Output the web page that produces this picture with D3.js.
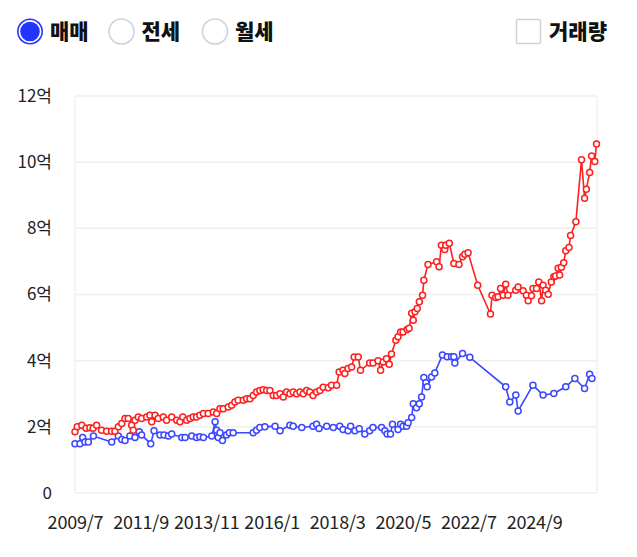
<!DOCTYPE html>
<html><head><meta charset="utf-8">
<script src="https://cdn.jsdelivr.net/npm/d3@7/dist/d3.min.js"></script>
<style>
body{margin:0;background:#fff;}
svg{display:block;font-family:"Noto Sans CJK KR","Noto Sans",sans-serif;}
</style>
</head><body>
<svg id="chart" width="637" height="557"></svg>
<script>
// ---- data ----
const legendLabels = ["매매", "전세", "월세"];
const volumeLabel = "거래량";
const yTickValues = [0, 2, 4, 6, 8, 10, 12];
const xTickLabels = ["2009/7", "2011/9", "2013/11", "2016/1", "2018/3", "2020/5", "2022/7", "2024/9"];
const xDomain = ["2009-07-01", "2026-10-01"];

const redDates = ["2009-07-01","2009-07-28","2009-09-21","2009-11-12","2009-12-28","2010-02-05","2010-03-19","2010-05-18","2010-07-18","2010-09-16","2010-10-26","2010-12-07","2011-01-16","2011-02-25","2011-04-04","2011-05-16","2011-06-04","2011-06-25","2011-08-04","2011-09-13","2011-11-13","2011-12-22","2012-01-13","2012-02-22","2012-04-01","2012-06-01","2012-07-10","2012-09-10","2012-11-10","2012-12-19","2013-01-22","2013-03-10","2013-04-19","2013-05-28","2013-07-07","2013-08-16","2013-09-28","2013-11-25","2014-01-25","2014-03-07","2014-04-16","2014-05-25","2014-07-25","2014-09-04","2014-10-13","2014-11-22","2015-01-22","2015-03-04","2015-04-13","2015-05-22","2015-07-01","2015-08-10","2015-09-19","2015-11-01","2015-12-10","2016-01-19","2016-02-28","2016-04-10","2016-05-19","2016-06-28","2016-08-07","2016-09-16","2016-10-28","2016-12-07","2017-01-16","2017-02-25","2017-04-04","2017-05-13","2017-06-25","2017-08-04","2017-09-13","2017-11-13","2017-12-22","2018-02-22","2018-03-25","2018-05-10","2018-06-01","2018-07-10","2018-08-22","2018-09-22","2018-11-10","2018-12-07","2019-03-28","2019-05-07","2019-07-07","2019-08-07","2019-09-07","2019-10-16","2019-11-19","2019-12-16","2020-02-07","2020-03-04","2020-04-04","2020-05-04","2020-06-22","2020-07-16","2020-08-16","2020-09-04","2020-09-25","2020-10-22","2020-11-16","2020-12-25","2021-01-10","2021-03-01","2021-06-13","2021-07-13","2021-08-10","2021-09-19","2021-10-01","2021-11-13","2022-01-07","2022-03-10","2022-04-22","2022-05-19","2022-06-28","2022-10-22","2023-03-25","2023-04-13","2023-05-28","2023-06-25","2023-07-25","2023-08-25","2023-09-25","2023-10-22","2024-01-25","2024-02-22","2024-04-22","2024-06-01","2024-06-22","2024-08-01","2024-08-19","2024-10-01","2024-10-28","2024-12-01","2024-12-19","2025-01-19","2025-02-19","2025-03-28","2025-04-28","2025-05-19","2025-06-19","2025-07-07","2025-07-28","2025-08-25","2025-09-19","2025-10-28","2025-11-16","2026-01-19","2026-03-28","2026-05-04","2026-05-25","2026-07-04","2026-07-28","2026-09-04","2026-09-25"];
const redValues = [1.85,2.0,2.05,1.96,1.97,1.96,2.05,1.9,1.87,1.87,1.87,2.0,2.1,2.25,2.25,2.05,1.9,2.2,2.3,2.25,2.3,2.35,2.15,2.35,2.25,2.3,2.2,2.3,2.2,2.15,2.3,2.2,2.25,2.3,2.3,2.35,2.4,2.4,2.45,2.4,2.55,2.55,2.6,2.65,2.75,2.8,2.8,2.85,2.85,2.95,3.05,3.1,3.12,3.1,3.1,2.95,2.95,3.0,2.9,3.05,3.0,3.05,3.0,3.05,3.0,3.1,3.05,2.95,3.05,3.1,3.2,3.18,3.26,3.26,3.66,3.71,3.61,3.76,3.81,4.11,4.11,3.71,3.93,3.93,4.0,3.71,3.96,4.06,3.89,4.2,4.62,4.72,4.87,4.87,4.94,4.98,5.43,5.22,5.48,5.58,5.78,5.98,6.43,6.91,6.99,6.84,7.49,7.36,7.49,7.55,6.94,6.91,7.14,7.22,7.26,6.28,5.41,5.98,5.91,5.93,6.18,5.98,6.31,5.98,6.13,6.23,6.11,5.98,5.81,5.96,6.18,6.18,6.38,5.81,6.28,6.13,6.01,6.38,6.54,6.56,6.79,6.59,6.82,6.96,7.32,7.42,7.78,8.2,10.07,8.91,9.18,9.69,10.19,10.02,10.55];

const blueDates = ["2009-07-01","2009-08-30","2009-10-02","2009-10-29","2009-12-09","2010-02-08","2010-09-17","2010-12-06","2011-01-16","2011-02-25","2011-04-25","2011-06-25","2011-08-16","2011-09-13","2012-01-01","2012-02-10","2012-04-22","2012-06-10","2012-08-01","2012-09-10","2013-01-10","2013-02-19","2013-05-10","2013-07-07","2013-08-16","2013-09-28","2014-01-07","2014-02-16","2014-03-07","2014-03-25","2014-04-16","2014-05-16","2014-07-04","2014-08-07","2014-09-22","2015-05-22","2015-07-01","2015-08-10","2015-10-10","2016-02-10","2016-04-10","2016-08-07","2016-09-16","2016-12-28","2017-05-13","2017-06-25","2017-07-25","2017-10-25","2018-01-13","2018-04-01","2018-05-10","2018-07-10","2018-08-10","2018-10-01","2018-11-22","2019-01-28","2019-03-28","2019-05-07","2019-08-19","2019-09-28","2019-10-25","2019-12-04","2019-12-28","2020-03-04","2020-04-04","2020-05-04","2020-06-16","2020-07-04","2020-08-16","2020-09-04","2020-10-13","2020-11-16","2020-12-13","2021-01-10","2021-02-04","2021-02-19","2021-04-13","2021-05-22","2021-08-22","2021-10-19","2021-12-10","2022-01-07","2022-01-19","2022-04-22","2022-07-19","2023-09-25","2023-11-13","2024-01-25","2024-02-22","2024-08-19","2024-12-19","2025-04-28","2025-09-19","2026-01-07","2026-05-04","2026-07-04","2026-08-01"];
const blueValues = [1.49,1.49,1.68,1.54,1.54,1.72,1.54,1.72,1.62,1.59,1.72,1.68,1.85,1.75,1.49,1.88,1.75,1.75,1.72,1.78,1.68,1.68,1.72,1.68,1.7,1.68,1.72,2.15,1.9,1.68,1.82,1.59,1.75,1.82,1.82,1.82,1.9,1.98,2.0,2.02,1.88,2.05,2.02,1.98,2.02,2.08,1.95,2.02,1.98,2.02,1.92,1.88,2.02,1.88,1.94,1.78,1.88,1.98,1.98,1.88,1.78,1.78,2.08,1.92,2.08,2.02,2.02,2.12,2.28,2.7,2.58,2.7,2.9,3.49,3.33,3.21,3.51,3.63,4.17,4.12,4.12,4.12,3.93,4.22,4.1,3.21,2.75,2.96,2.48,3.26,2.96,3.01,3.21,3.46,3.16,3.59,3.46];

// ---- chart ----
const svg = d3.select("#chart");
const W = 637, H = 557;
const m = {left: 75, right: 40, top: 96, bottom: 64};
const parse = d3.timeParse("%Y-%m-%d");
const parseTick = d3.timeParse("%Y/%m");

const x = d3.scaleTime().domain(xDomain.map(parse)).range([m.left, W - m.right]);
const y = d3.scaleLinear().domain([0, 12]).range([H - m.bottom, m.top]);

const red = "#ff1f1f", blue = "#3b46ff";

// grid
const grid = svg.append("g");
grid.selectAll("line.h").data(yTickValues).join("line")
  .attr("x1", m.left).attr("x2", W - m.right)
  .attr("y1", d => y(d)).attr("y2", d => y(d))
  .attr("stroke", "#efefef").attr("stroke-width", 1.5);
grid.selectAll("line.v").data([m.left, W - m.right]).join("line")
  .attr("x1", d => d).attr("x2", d => d)
  .attr("y1", y(12)).attr("y2", y(0))
  .attr("stroke", "#efefef").attr("stroke-width", 1.2);

// y axis
const yAxis = d3.axisLeft(y).tickValues(yTickValues).tickSize(0).tickPadding(0)
  .tickFormat(d => d === 0 ? "0" : d + "억");
svg.append("g").attr("transform", `translate(${52},0)`).call(yAxis)
  .call(g => g.select(".domain").remove())
  .call(g => g.selectAll("text").attr("font-size", 17).attr("fill", "#222")
    .attr("font-family", '"Noto Sans CJK KR","Noto Sans",sans-serif'));

// x axis
const xAxis = d3.axisBottom(x).tickValues(xTickLabels.map(parseTick)).tickSize(0).tickPadding(0)
  .tickFormat(d3.timeFormat("%Y/%-m"));
svg.append("g").attr("transform", `translate(0,${516})`).call(xAxis)
  .call(g => g.select(".domain").remove())
  .call(g => g.selectAll("text").attr("font-size", 18).attr("letter-spacing", "-0.2px").attr("fill", "#222")
    .attr("font-family", '"Noto Sans CJK KR","Noto Sans",sans-serif'));

// series
function drawSeries(dates, values, color) {
  const pts = dates.map((d, i) => ({date: parse(d), value: values[i]}));
  const line = d3.line().x(d => x(d.date)).y(d => y(d.value));
  svg.append("path").datum(pts).attr("d", line)
    .attr("fill", "none").attr("stroke", color).attr("stroke-width", 1.6);
  svg.append("g").selectAll("circle").data(pts).join("circle")
    .attr("cx", d => x(d.date)).attr("cy", d => y(d.value)).attr("r", 3)
    .attr("fill", "#fff").attr("stroke", color).attr("stroke-width", 1.5);
}
drawSeries(blueDates, blueValues, blue);
drawSeries(redDates, redValues, red);

// legend
const legendX = [30, 121.5, 215];
const lg = svg.append("g");
legendLabels.forEach((lab, i) => {
  const cx = legendX[i], cy = 31.5;
  if (i === 0) {
    lg.append("circle").attr("cx", cx).attr("cy", cy).attr("r", 13).attr("fill", "#2434ff");
    lg.append("circle").attr("cx", cx).attr("cy", cy).attr("r", 10.6).attr("fill", "none")
      .attr("stroke", "#fff").attr("stroke-width", 1.6);
  } else {
    lg.append("circle").attr("cx", cx).attr("cy", cy).attr("r", 12.5).attr("fill", "#fff")
      .attr("stroke", "#d0d3dc").attr("stroke-width", 1.6);
  }
  lg.append("text").attr("x", cx + 20).attr("y", cy).attr("dy", "0.36em")
    .attr("font-size", 21).attr("font-weight", 800).attr("fill", "#111").text(lab);
});
lg.append("rect").attr("x", 516.5).attr("y", 19.5).attr("width", 24).attr("height", 24).attr("rx", 1.5)
  .attr("fill", "#fff").attr("stroke", "#cfd2da").attr("stroke-width", 1.5);
lg.append("text").attr("x", 549).attr("y", 31.5).attr("dy", "0.36em")
  .attr("font-size", 21).attr("font-weight", 800).attr("fill", "#111").text(volumeLabel);
</script>
</body></html>
